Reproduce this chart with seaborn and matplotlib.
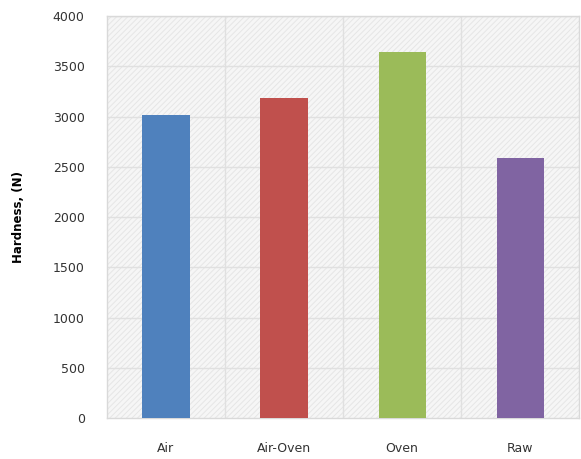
import pandas as pd
import seaborn as sns
import matplotlib.pyplot as plt
from matplotlib.patches import Rectangle

sns.set_style("white")
plt.rcParams["font.family"] = ["DejaVu Sans"]
plt.rcParams["hatch.linewidth"] = 0.7

categories = ["Air", "Air-Oven", "Oven", "Raw"]
hardness = [3020, 3180, 3640, 2590]
colors = ["#4F81BD", "#C0504D", "#9BBB59", "#8064A2"]

df = pd.DataFrame({"treatment": categories, "hardness": hardness})

fig = plt.figure(figsize=(5.81, 4.59), dpi=100)
ax = fig.add_axes([0.184, 0.089, 0.813, 0.876])

ax.set_facecolor("#f6f6f6")
# faint diagonal hatch like the original plot area fill
ax.add_patch(Rectangle((0, 0), 1, 1, transform=ax.transAxes, facecolor="none",
                       edgecolor="#e6e6e6", hatch="//////", lw=0, zorder=0))

sns.barplot(data=df, x="treatment", y="hardness", hue="treatment",
            palette=colors, width=0.4, legend=False, ax=ax, zorder=3,
            edgecolor="none", saturation=1)

ax.set_ylim(0, 4000)
ax.set_xlim(-0.5, 3.5)
ax.set_yticks(range(0, 4001, 500))

for y in range(500, 4001, 500):
    ax.axhline(y, color="#e0e0e0", lw=1.0, zorder=1)
for x in [0.5, 1.5, 2.5]:
    ax.axvline(x, color="#e0e0e0", lw=1.0, zorder=1)

for s in ax.spines.values():
    s.set_color("#d9d9d9")
    s.set_linewidth(1.0)

ax.tick_params(axis="y", length=0, pad=16, labelsize=9, labelcolor="#333333")
ax.tick_params(axis="x", length=0, pad=17, labelsize=9, labelcolor="#333333")
ax.set_xlabel("")
ax.set_ylabel("Hardness, (N)", fontsize=8.5, fontweight="bold", labelpad=20,
              color="black")

fig.savefig("out.png", dpi=100)
